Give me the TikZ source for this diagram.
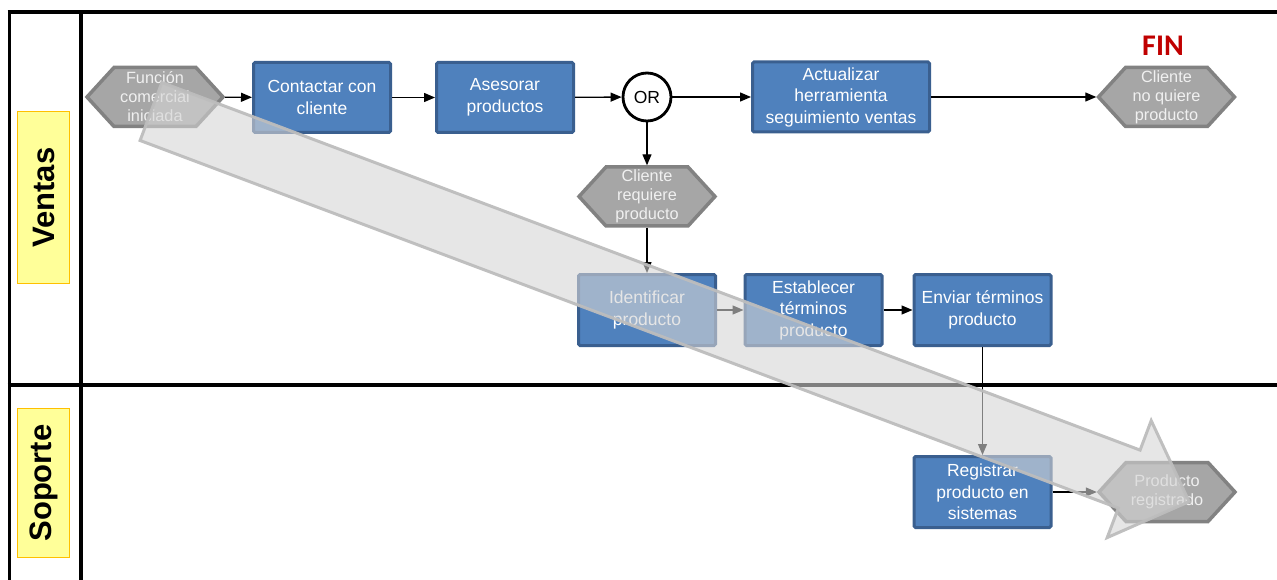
\documentclass[tikz,border=0pt]{standalone}
\usepackage{fontspec}
\setmainfont{Liberation Sans}
\newfontfamily\calfont{Carlito}
\usetikzlibrary{arrows.meta}
\definecolor{boxfill}{HTML}{4F81BD}
\definecolor{boxline}{HTML}{3A5F8F}
\definecolor{hexfill}{HTML}{A6A6A6}
\definecolor{hexline}{HTML}{828282}
\definecolor{lanefill}{HTML}{FFFF99}
\definecolor{laneline}{HTML}{FFC000}
\definecolor{finred}{HTML}{C00000}
\definecolor{bandfill}{HTML}{D5D5D5}
\definecolor{bandline}{HTML}{BDBDBD}

% event hexagon: outline first, then the named text node on top
\newcommand\eventhex[4]{%
  \draw[eventshape, shift={(#2,#3)}] (-68,0) -- (-41,-29.5) -- (41,-29.5) -- (68,0)
        -- (41,29.5) -- (-41,29.5) -- cycle;
  \node[eventtext] (#1) at (#2,#3) {#4};}

\begin{document}
\begin{tikzpicture}[x=1pt,y=-1pt,
  lane/.style={line width=3.8pt, black},
  lanetag/.style={draw=laneline, fill=lanefill, line width=1pt, minimum height=52pt,
    inner sep=0pt, font=\bfseries\fontsize{31}{34}\selectfont},
  taskbox/.style={rectangle, draw=boxline, fill=boxfill, line width=3pt, rounded corners=1.5pt,
    minimum width=137pt, minimum height=70pt, inner sep=2pt, text=white, align=center,
    font=\fontsize{17.5}{21.5}\selectfont},
  eventtext/.style={rectangle, minimum width=140pt, minimum height=62pt, inner sep=0pt,
    text=white!94!black, align=center, font=\fontsize{16.3}{19}\selectfont},
  eventshape/.style={draw=hexline, fill=hexfill, line width=3.5pt, line join=miter},
  gate/.style={circle, draw=black, fill=white, line width=2.8pt, minimum size=48pt,
    inner sep=0pt, font=\fontsize{17.5}{20}\selectfont},
  flow/.style={line width=1.3pt, -{Triangle[length=11pt,width=9pt]}},
  band/.style={fill=bandfill, fill opacity=0.6, draw=bandline, draw opacity=0.95,
    line width=3pt, line join=miter},
]
\useasboundingbox (0,0) rectangle (1277,580);

% swimlane frame
\draw[lane] (7.5,12.3) -- (1277,12.3);
\draw[lane] (9.5,10.5) -- (9.5,580);
\draw[lane] (80.7,10.5) -- (80.7,580);
\draw[lane] (7.5,385) -- (1277,385);

% lane labels
\node[lanetag, minimum width=172pt, rotate=90] (laneA) at (43.5,197.5) {Ventas};
\node[lanetag, minimum width=149pt, rotate=90] (laneB) at (43.5,483) {Soporte};

% events
\eventhex{start}{155}{97}{Función\\comercial\\iniciada}
\eventhex{nobuy}{1166.5}{97}{Cliente\\no quiere\\producto}
\eventhex{needs}{647}{196.5}{Cliente\\requiere\\producto}
\eventhex{done}{1167}{492}{Producto\\registrado}

\node[text=finred, font=\calfont\bfseries\fontsize{30}{34}\selectfont] (fin) at (1163,46) {FIN};

% tasks
\node[taskbox] (contact) at (322,97.5) {Contactar con\\cliente};
\node[taskbox] (advise) at (505,97.5) {Asesorar\\productos};
\node[taskbox, minimum width=177pt] (update) at (841,97) {Actualizar\\herramienta\\seguimiento ventas};
\node[taskbox, minimum height=71pt] (ident) at (647,310) {Identificar\\producto};
\node[taskbox, minimum height=71pt] (terms) at (813.5,310) {Establecer\\términos\\producto};
\node[taskbox, minimum height=71pt] (send) at (982.5,310) {Enviar términos\\producto};
\node[taskbox, minimum height=71pt] (reg) at (982.5,492) {Registrar\\producto en\\sistemas};

% gateway
\node[gate] (or) at (647,97) {OR};

% flows
\draw[flow] (start) -- (contact);
\draw[flow] (contact) -- (advise);
\draw[flow] (advise) -- (or);
\draw[flow] (or) -- (update);
\draw[flow] (update) -- (nobuy);
\draw[flow] (or) -- (needs);
\draw[flow] (needs) -- (ident);
\draw[flow] (ident) -- (terms);
\draw[flow] (terms) -- (send);
\draw[flow] (send) -- (reg);
\draw[flow] (reg) -- (done);

% translucent overlay arrow
\draw[band] (161.9,82.5) -- (1140.1,450.1) -- (1151.2,420.6) -- (1189.1,501.6)
  -- (1107.2,537.6) -- (1118.3,508.1) -- (140.1,140.5) -- cycle;
\end{tikzpicture}
\end{document}
